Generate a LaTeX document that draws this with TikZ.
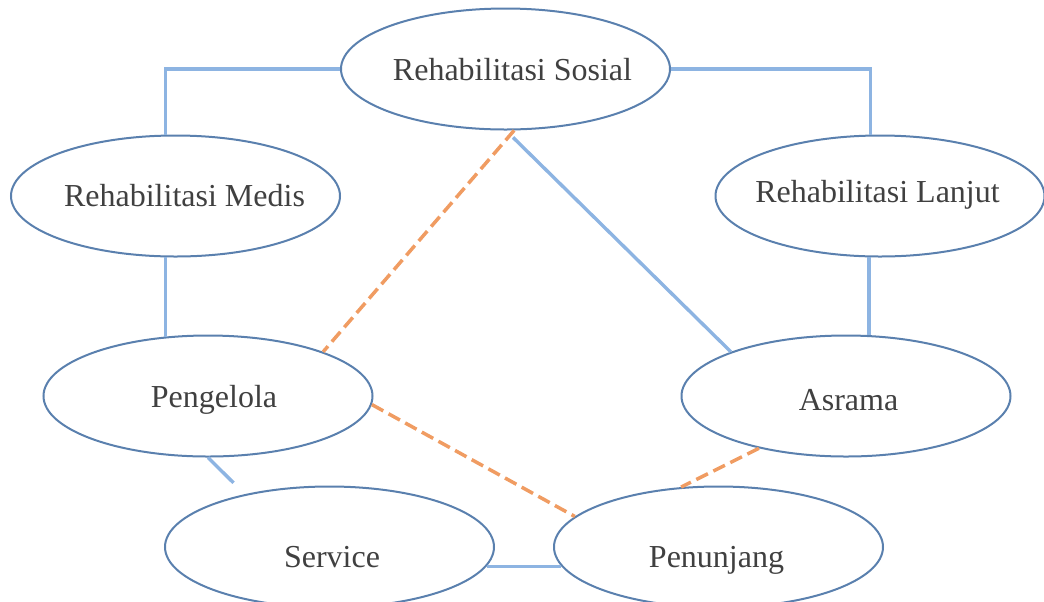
\documentclass[tikz,border=0pt]{standalone}
\usepackage{fontspec}
\setmainfont{Liberation Serif}
\usepackage{tikz}
\usetikzlibrary{shapes,positioning,calc}
\definecolor{ovalblue}{HTML}{5A80AE}
\definecolor{linkblue}{HTML}{8DB4E2}
\definecolor{dashorange}{HTML}{F09C62}
\definecolor{textgray}{HTML}{404040}

\begin{document}
\begin{tikzpicture}[
    x=0.5pt, y=-0.5pt,
    oval/.style={ellipse, draw=ovalblue, line width=1pt, text=textgray, minimum width=164.5pt, minimum height=60.5pt, inner xsep=-12pt, inner ysep=0pt, text height=11pt, text depth=3.5pt, font=\fontsize{16}{19}\selectfont},
    link/.style={draw=linkblue, line width=1.7pt},
    dashlink/.style={draw=dashorange, line width=1.75pt, dash pattern=on 6.5pt off 3pt}
]
\useasboundingbox (0,0) rectangle (1044,601);

% Ellipses
\node[oval, text height=14.5pt] (sosial) at (505.5,69) {\hspace*{7pt}Rehabilitasi Sosial};
\node[oval, text height=13.5pt] (medis) at (175.5,196) {\hspace*{9pt}Rehabilitasi Medis};
\node[oval, text height=9.5pt] (lanjut) at (880,196) {Rehabilitasi Lanjut\hspace*{2.5pt}};
\node[oval, text height=14.5pt] (pengelola) at (208,396) {\hspace*{6pt}Pengelola};
\node[oval, text height=17.5pt] (asrama) at (846,396) {\hspace*{2.5pt}Asrama};
\node[oval, text height=23.5pt] (service) at (329.5,547) {\hspace*{2.5pt}Service};
\node[oval, text height=23.5pt] (penunjang) at (718.5,547) {Penunjang\hspace*{2pt}};

% Solid links
\draw[link] (sosial.west) -| (medis.99);
\draw[link] (sosial.east) -| (lanjut.99);
\draw[link] (medis.261) -- (medis.261 |- pengelola.126);
\draw[link] (lanjut.260) -- (lanjut.260 |- asrama.68);
\draw[link] ([shift={(0,7)}]sosial.-83) -- (asrama.159);
\draw[link, shorten >=8pt] (pengelola.south) -- (service.148);
\draw[link] (service.-7) -- (penunjang.187);

% Dashed links
\draw[dashlink] (sosial.-82) -- (pengelola.21);
\draw[dashlink] (pengelola.-3) -- (penunjang.168);
\draw[dashlink] (asrama.211) -- (penunjang.122);

\end{tikzpicture}
\end{document}
